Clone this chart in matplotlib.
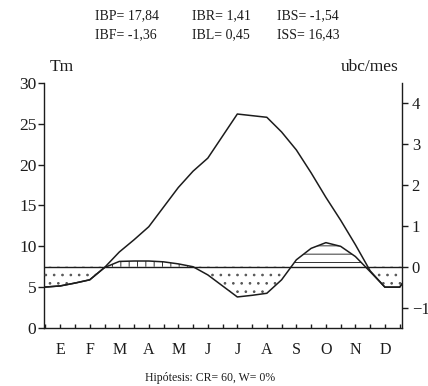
import numpy as np
import matplotlib
matplotlib.use("Agg")
import matplotlib.pyplot as plt

plt.rcParams['font.family'] = ['Liberation Serif', 'DejaVu Serif']
plt.rcParams['hatch.linewidth'] = 0.7
plt.rcParams['hatch.color'] = '#333333'

# data (x in months, E = 0 ... D = 11)
months = ['E', 'F', 'M', 'A', 'M', 'J', 'J', 'A', 'S', 'O', 'N', 'D']
x_pts = [-0.55, 0, 0.5, 1, 1.5, 2, 2.5, 3, 3.5, 4, 4.5, 5, 5.5, 6, 6.5, 7,
         7.5, 8, 8.5, 9, 9.5, 10, 10.5, 11, 11.5, 11.58]
tm = [5.0, 5.15, 5.5, 5.9, 7.4, 9.3, 10.8, 12.4, 14.8, 17.2, 19.2, 20.8, 23.5,
      26.2, 26.0, 25.8, 24.0, 21.8, 19.0, 16.0, 13.2, 10.2, 7.0, 5.0, 5.0, 5.4]
ubc = [-0.50, -0.47, -0.40, -0.32, -0.02, 0.13, 0.14, 0.14, 0.12, 0.07, 0.0,
       -0.20, -0.47, -0.74, -0.70, -0.65, -0.32, 0.17, 0.45, 0.59, 0.50, 0.25,
       -0.12, -0.50, -0.50, -0.42]

top_texts = [['IBP= 17,84', 'IBR= 1,41', 'IBS= -1,54'],
             ['IBF= -1,36', 'IBL= 0,45', 'ISS= 16,43']]
footer = 'Hipótesis: CR= 60, W= 0%'

ink = '#1c1c1c'
x = np.array(x_pts)
u = np.array(ubc)

fig = plt.figure(figsize=(4.28, 3.86), dpi=100)
ax = fig.add_axes([0.1028, 0.1503, 0.8365, 0.6347])
ax2 = ax.twinx()

ax.plot(x, tm, color=ink, linewidth=1.1)
ax2.plot(x, u, color=ink, linewidth=1.1)
ax2.axhline(0, color=ink, linewidth=1.0)

# filled areas between ubc curve and zero line
ax2.fill_between(x, u, 0, where=u < 0, interpolate=True, facecolor='none',
                 edgecolor='#555555', hatch='..', linewidth=0)
ax2.fill_between(x, u, 0, where=(u > 0) & (x < 6), interpolate=True,
                 facecolor='none', edgecolor='#333333', hatch='||', linewidth=0)
ax2.fill_between(x, u, 0, where=(u > 0) & (x > 6), interpolate=True,
                 facecolor='none', edgecolor='#333333', hatch='--', linewidth=0)

ax.set_xlim(-0.55, 11.58)
ax.set_ylim(0, 30)
ax2.set_ylim(-1.5, 4.5)

ax.set_yticks(range(0, 31, 5))
ax2.set_yticks(range(-1, 5))
ax.set_xticks(range(12))
ax.set_xticklabels(months)
ax.set_xticks(np.arange(-0.5, 11.6, 0.5), minor=True)

for a in (ax, ax2):
    a.spines['top'].set_visible(False)
    for s in a.spines.values():
        s.set_color(ink)
        s.set_linewidth(1.0)
ax.spines['right'].set_visible(False)
ax2.spines['left'].set_visible(False)
ax2.spines['bottom'].set_visible(False)

ax.tick_params(axis='y', direction='out', length=4, width=1, colors=ink,
               labelsize=12.5, pad=1.5)
ax2.tick_params(axis='y', direction='out', length=4, width=1, colors=ink,
                labelsize=12, pad=3)
ax.tick_params(axis='x', which='both', direction='in', length=3, width=1,
               colors=ink, labelsize=11.5, pad=10)

ax.text(0.145, 0.826, 'Tm', transform=fig.transFigure, ha='center',
        va='center', fontsize=12.5, color=ink)
ax.text(0.864, 0.826, 'ubc/mes', transform=fig.transFigure, ha='center',
        va='center', fontsize=12.5, color=ink)

xs = [0.222, 0.4486, 0.647]
ys = [0.9585, 0.909]
for row, yy in zip(top_texts, ys):
    for t, xx in zip(row, xs):
        fig.text(xx, yy, t, ha='left', va='center', fontsize=10, color=ink)

fig.text(0.491, 0.021, footer, ha='center', va='center', fontsize=8.5,
         color=ink)

fig.savefig('out.png', dpi=100)
